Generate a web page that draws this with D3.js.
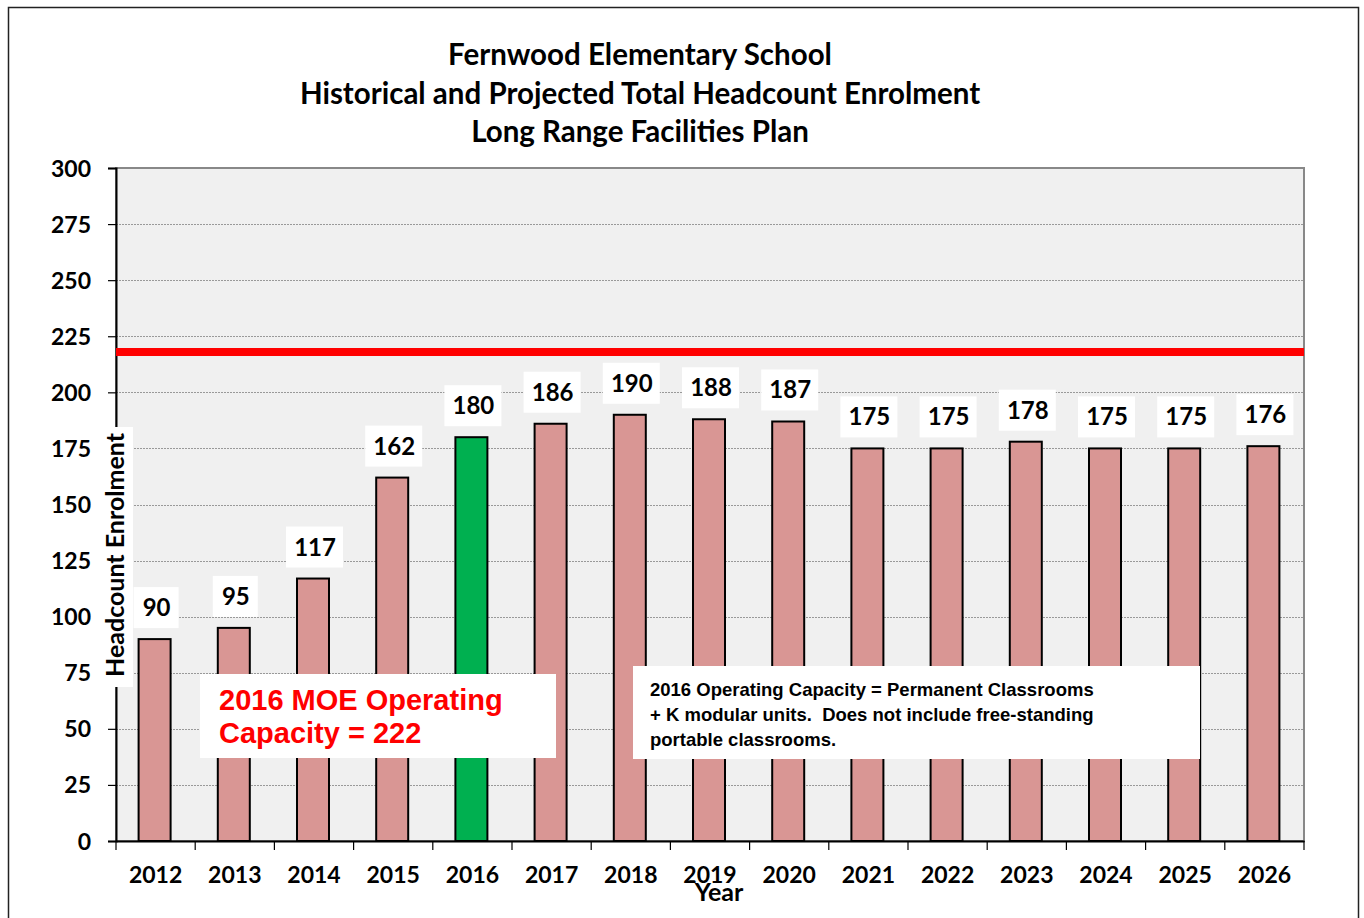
<!DOCTYPE html>
<html>
<head>
<meta charset="utf-8">
<script src="https://cdn.jsdelivr.net/npm/d3@7/dist/d3.min.js"></script>
<style>
  body { margin: 0; background: #fff; }
  svg { display: block; }
</style>
</head>
<body>
<svg id="chart" width="1364" height="918"></svg>
<script>
const years = ["2012","2013","2014","2015","2016","2017","2018","2019","2020","2021","2022","2023","2024","2025","2026"];
const enrolment = [90,95,117,162,180,186,190,188,187,175,175,178,175,175,176];
const highlightYear = "2016";
const capacityLineValue = 218;
const yTicks = [0,25,50,75,100,125,150,175,200,225,250,275,300];
const titleLines = ["Fernwood Elementary School","Historical and Projected Total Headcount Enrolment","Long Range Facilities Plan"];
const capacityNote = ["2016 MOE Operating","Capacity = 222"];
const footNote = ["2016 Operating Capacity = Permanent Classrooms","+ K modular units.  Does not include free-standing","portable classrooms."];

const svg = d3.select("#chart");
const L = 116, R = 1304, T = 168, B = 841;
const fontC = "Lato, 'Open Sans', sans-serif";
const fontA = "'Liberation Sans', Arial, sans-serif";

// outer border
svg.append("rect").attr("x", 8.5).attr("y", 7.5).attr("width", 1350).attr("height", 920)
  .attr("fill", "#fff").attr("stroke", "#222").attr("stroke-width", 1.5);

const x = d3.scaleBand().domain(years).range([L, R]).paddingInner(0).paddingOuter(0);
const y = d3.scaleLinear().domain([0, 300]).range([B, T]);

// plot area
svg.append("rect").attr("x", L).attr("y", T).attr("width", R - L).attr("height", B - T)
  .attr("fill", "#f0f0f0").attr("stroke", "#888").attr("stroke-width", 2);

// gridlines
svg.append("g").selectAll("line").data(yTicks.filter(d => d > 0 && d < 300)).join("line")
  .attr("x1", L).attr("x2", R).attr("y1", d => Math.round(y(d)) + 0.5).attr("y2", d => Math.round(y(d)) + 0.5)
  .attr("stroke", "#999").attr("stroke-width", 1).attr("stroke-dasharray", "2,1");

// title
svg.append("g").selectAll("text").data(titleLines).join("text")
  .attr("x", 640).attr("y", (d, i) => 65 + i * 38.5)
  .attr("text-anchor", "middle").attr("font-family", fontC).attr("font-weight", "bold")
  .attr("font-size", 29.5).attr("fill", "#000").text(d => d);

// y axis
const yAxis = svg.append("g").attr("transform", `translate(${L},0)`)
  .call(d3.axisLeft(y).tickValues(yTicks).tickSize(8).tickPadding(17));
yAxis.select(".domain").attr("stroke", "#000").attr("stroke-width", 2);
yAxis.selectAll(".tick line").attr("stroke", "#000").attr("stroke-width", 1.2);
yAxis.selectAll(".tick text").attr("font-family", fontC).attr("font-weight", "bold")
  .attr("font-size", 23).attr("fill", "#000").attr("dy", "0.35em");

// x axis
const xAxis = svg.append("g").attr("transform", `translate(0,${B})`)
  .call(d3.axisBottom(x).tickSize(0).tickPadding(26));
xAxis.select(".domain").attr("stroke", "#000").attr("stroke-width", 2);
xAxis.selectAll(".tick text").attr("font-family", fontC).attr("font-weight", "bold")
  .attr("font-size", 23).attr("fill", "#000");
// boundary ticks
const bounds = years.map(d => x(d)).concat([x(years[years.length - 1]) + x.bandwidth()]);
svg.append("g").selectAll("line").data(bounds).join("line")
  .attr("x1", d => d).attr("x2", d => d).attr("y1", B).attr("y2", B + 9)
  .attr("stroke", "#000").attr("stroke-width", 1.2);

// bars
const bw = 32;
svg.append("g").selectAll("rect").data(years).join("rect")
  .attr("x", d => x(d) + x.bandwidth() / 2 - bw / 2 - 1)
  .attr("y", (d, i) => y(enrolment[i]))
  .attr("width", bw).attr("height", (d, i) => B - y(enrolment[i]))
  .attr("fill", d => d === highlightYear ? "#00b050" : "#d99694")
  .attr("stroke", "#000").attr("stroke-width", 2);

// capacity line
svg.append("line").attr("x1", L).attr("x2", R)
  .attr("y1", y(capacityLineValue)).attr("y2", y(capacityLineValue))
  .attr("stroke", "#ff0000").attr("stroke-width", 8);

// value labels
const lab = svg.append("g").selectAll("g").data(years).join("g")
  .attr("transform", (d, i) => `translate(${x(d) + x.bandwidth() / 2},${y(enrolment[i]) - 11})`);
lab.append("rect")
  .attr("x", (d, i) => String(enrolment[i]).length > 2 ? -28 : -22)
  .attr("y", -41)
  .attr("width", (d, i) => String(enrolment[i]).length > 2 ? 57 : 45)
  .attr("height", 41).attr("fill", "#fff");
lab.append("text").attr("x", 1).attr("y", -12).attr("text-anchor", "middle")
  .attr("font-family", fontC).attr("font-weight", "bold").attr("font-size", 24).attr("fill", "#000")
  .text((d, i) => enrolment[i]);

// y axis title
svg.append("rect").attr("x", 103).attr("y", 427).attr("width", 30).attr("height", 260).attr("fill", "#fff");
svg.append("text").attr("transform", "translate(124,555) rotate(-90)")
  .attr("text-anchor", "middle").attr("font-family", fontC).attr("font-weight", "bold")
  .attr("font-size", 25).attr("fill", "#000").text("Headcount Enrolment");

// x axis title
svg.append("text").attr("x", 719).attr("y", 901).attr("text-anchor", "middle")
  .attr("font-family", fontC).attr("font-weight", "bold").attr("font-size", 25).attr("fill", "#000").text("Year");

// capacity note
svg.append("rect").attr("x", 200).attr("y", 674).attr("width", 356).attr("height", 84).attr("fill", "#fff");
svg.append("g").selectAll("text").data(capacityNote).join("text")
  .attr("x", 219).attr("y", (d, i) => 710 + i * 33)
  .attr("font-family", fontA).attr("font-weight", "bold").attr("font-size", 29).attr("fill", "#ff0000")
  .text(d => d);

// footnote
svg.append("rect").attr("x", 633).attr("y", 666).attr("width", 567).attr("height", 93).attr("fill", "#fff");
svg.append("g").selectAll("text").data(footNote).join("text")
  .attr("x", 650).attr("y", (d, i) => 696 + i * 25)
  .style("white-space", "pre")
  .attr("font-family", fontA).attr("font-weight", "bold").attr("font-size", 18.5).attr("fill", "#000")
  .text(d => d);
</script>
</body>
</html>
